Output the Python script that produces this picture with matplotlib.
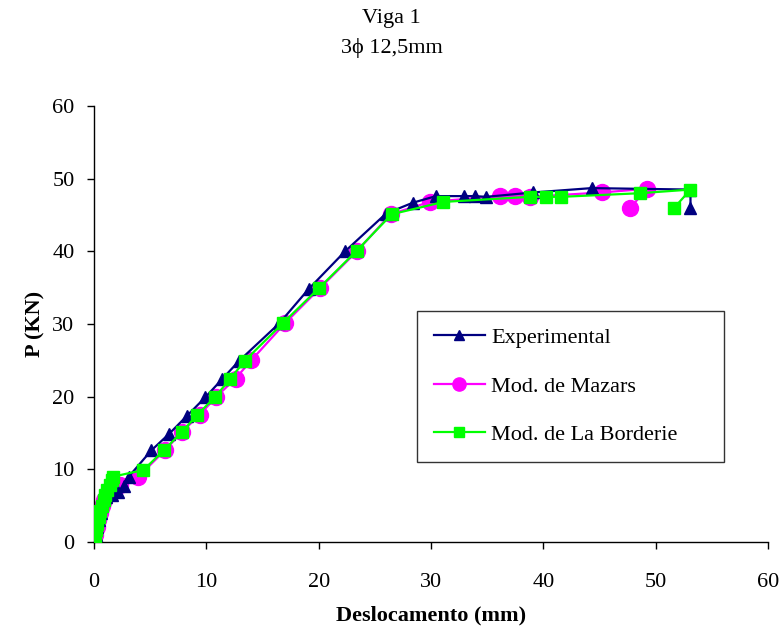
import matplotlib
matplotlib.use("Agg")
import matplotlib.pyplot as plt

plt.rcParams['font.family'] = ['Liberation Serif', 'DejaVu Serif']

# Experimental
exp_x = [0, 0.15, 0.3, 0.45, 0.6, 0.75, 0.9, 1.1, 1.6, 2.1, 2.7, 3.1, 5.1, 6.7, 8.3, 9.9, 11.4,
         12.9, 16.5, 19.1, 22.35, 26.0, 28.4, 30.45, 32.9, 33.9, 34.9, 39.1, 44.3, 53.1, 53.1]
exp_y = [0, 1.0, 2.0, 3.0, 4.0, 5.0, 5.8, 6.2, 6.5, 6.9, 7.7, 9.0, 12.6, 14.9, 17.4, 19.9, 22.4,
         24.9, 30.1, 34.8, 40.0, 45.2, 46.7, 47.6, 47.6, 47.6, 47.5, 48.1, 48.7, 48.5, 45.9]

# Mod. de Mazars
maz_x = [0, 0.1, 0.25, 0.4, 0.55, 0.7, 0.9, 1.2, 1.6, 2.3, 3.9, 6.3, 7.8, 9.4, 10.9, 12.6,
         14.0, 17.0, 20.1, 23.4, 26.4, 29.9, 36.1, 37.5, 38.8, 45.2, 49.2, 47.7]
maz_y = [0, 1.0, 2.0, 3.0, 4.0, 5.0, 5.8, 6.5, 7.0, 7.8, 8.9, 12.6, 15.1, 17.5, 20.0, 22.5,
         25.0, 30.1, 34.9, 40.0, 45.1, 46.8, 47.6, 47.6, 47.5, 48.1, 48.6, 45.9]

# Mod. de La Borderie
lab_x = [0, 0.1, 0.2, 0.3, 0.45, 0.55, 0.7, 0.85, 1.0, 1.2, 1.4, 1.6, 1.7, 4.4, 6.2, 7.8, 9.2,
         10.8, 12.1, 13.4, 16.8, 20.0, 23.4, 26.5, 31.1, 38.8, 40.2, 41.6, 48.6, 53.1, 51.6]
lab_y = [0, 0.8, 1.6, 2.5, 3.4, 4.2, 5.0, 5.8, 6.5, 7.2, 7.9, 8.5, 9.0, 9.9, 12.6, 15.1, 17.5,
         20.0, 22.4, 24.9, 30.1, 34.9, 40.1, 45.1, 46.8, 47.5, 47.5, 47.5, 48.0, 48.5, 45.9]

xticks = [0, 10, 20, 30, 40, 50, 60]
yticks = [0, 10, 20, 30, 40, 50, 60]

W, H = 783, 632
fig = plt.figure(figsize=(W / 100, H / 100), dpi=100)
x0, x1, y0, y1 = 94, 768, 542, 106
ax = fig.add_axes([x0 / W, 1 - y0 / H, (x1 - x0) / W, (y0 - y1) / H])

ax.plot(exp_x, exp_y, color='#000080', lw=1.6, marker='^', ms=8, label='Experimental', zorder=3)
ax.plot(maz_x, maz_y, color='#FF00FF', lw=1.6, marker='o', ms=11.5, label='Mod. de Mazars', zorder=2)
ax.plot(lab_x, lab_y, color='#00FF00', lw=1.6, marker='s', ms=9, label='Mod. de La Borderie', zorder=4)

ax.set_xlim(0, 60)
ax.set_ylim(0, 60)
ax.set_xticks(xticks)
ax.set_yticks(yticks)
ax.tick_params(direction='out', length=5, width=1, labelsize=16)
ax.tick_params(axis='x', pad=17)
ax.tick_params(axis='y', pad=9)
ax.spines['top'].set_visible(False)
ax.spines['right'].set_visible(False)
for s in ('left', 'bottom'):
    ax.spines[s].set_linewidth(1.0)
ax.set_xlabel('Deslocamento (mm)', fontsize=16, fontweight='bold', labelpad=10)
ax.set_ylabel('P (KN)', fontsize=16, fontweight='bold', labelpad=5)

fig.text(0.5, 1 - 18 / H, 'Viga 1', ha='center', va='center', fontsize=16)
fig.text(0.5, 1 - 48 / H, '3ϕ 12,5mm', ha='center', va='center', fontsize=16)

lx0 = (417 - x0) / (x1 - x0)
lw_ = (724 - 417) / (x1 - x0)
ltop = (y0 - 311) / (y0 - y1)
lbot = (y0 - 462) / (y0 - y1)
leg = ax.legend(loc='upper left', bbox_to_anchor=(lx0, lbot, lw_, ltop - lbot), mode='expand',
                fontsize=16, frameon=True, fancybox=False, edgecolor='black',
                borderpad=0.75, labelspacing=1.25, handlelength=2.3, handletextpad=0.3,
                borderaxespad=0)
leg.get_frame().set_linewidth(1.0)
for h, ms in zip(leg.legend_handles, [6.5, 9.5, 7]):
    h.set_markersize(ms)

fig.savefig('out.png', dpi=100)
